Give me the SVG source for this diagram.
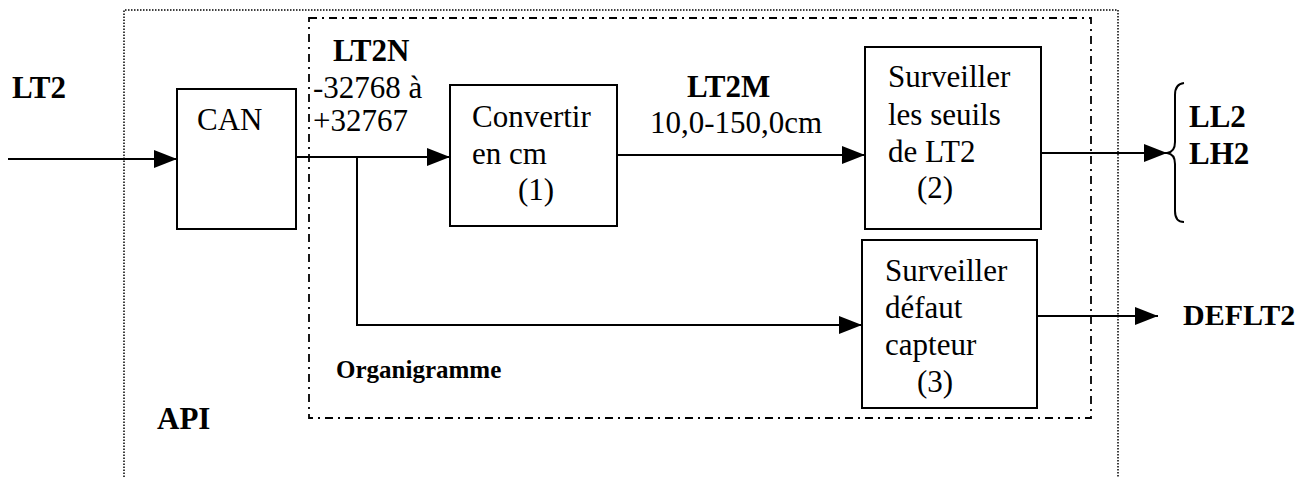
<svg xmlns="http://www.w3.org/2000/svg" width="1312" height="477" viewBox="0 0 1312 477">
<defs>
<style>
.box{fill:none;stroke:#000;stroke-width:2}
.t{font-family:"Liberation Serif","Times New Roman",serif;font-size:31px;fill:#000}
.b{font-family:"Liberation Serif","Times New Roman",serif;font-size:31px;font-weight:bold;fill:#000}
.c{fill:none;stroke:#000;stroke-width:2}
</style>
<marker id="ah" markerUnits="userSpaceOnUse" markerWidth="23" markerHeight="18" refX="23" refY="9" orient="auto">
<path d="M0,0 L23,9 L0,18 z" fill="#000"/>
</marker>
</defs>
<rect width="1312" height="477" fill="#fff"/>
<g id="api">
<path d="M124,477 V10 H1118 V477" fill="none" stroke="#000" stroke-width="1.5" stroke-dasharray="1.5 1.5"/>
<text class="b" x="157" y="429">API</text>
</g>
<g id="organigramme">
<rect x="309" y="18" width="782" height="400" fill="none" stroke="#000" stroke-width="1.8" stroke-dasharray="8 5 2 5"/>
<text class="b" x="336" y="378" style="font-size:25px">Organigramme</text>
</g>
<g id="in-LT2"><text class="b" x="12" y="98">LT2</text></g>
<g id="can">
<rect class="box" x="177" y="89" width="119" height="140"/>
<text class="t" x="197" y="130">CAN</text>
</g>
<g id="lbl-LT2N">
<text class="b" x="333" y="61">LT2N</text>
<text class="t" x="313" y="98">-32768 à</text>
<text class="t" x="313" y="131">+32767</text>
</g>
<g id="convertir">
<rect class="box" x="450" y="85" width="167" height="141"/>
<text class="t" x="472" y="127">Convertir</text>
<text class="t" x="472" y="164">en cm</text>
<text class="t" x="518" y="200">(1)</text>
</g>
<g id="lbl-LT2M">
<text class="b" x="687" y="97">LT2M</text>
<text class="t" x="650" y="133">10,0-150,0cm</text>
</g>
<g id="seuils">
<rect class="box" x="865" y="47" width="176" height="182"/>
<text class="t" x="888" y="87">Surveiller</text>
<text class="t" x="888" y="125">les seuils</text>
<text class="t" x="888" y="162">de LT2</text>
<text class="t" x="917" y="198">(2)</text>
</g>
<g id="defaut">
<rect class="box" x="862" y="240" width="175" height="168"/>
<text class="t" x="885" y="281">Surveiller</text>
<text class="t" x="885" y="318">défaut</text>
<text class="t" x="885" y="355">capteur</text>
<text class="t" x="917" y="392">(3)</text>
</g>
<g id="out-LL2-LH2">
<path d="M1184,83 Q1175,84 1175,95 V142 Q1175,152 1167,153 Q1175,154 1175,164 V211 Q1175,222 1184,222" fill="none" stroke="#000" stroke-width="2"/>
<text class="b" x="1189" y="127">LL2</text>
<text class="b" x="1189" y="164">LH2</text>
</g>
<g id="out-DEFLT2"><text class="b" x="1183" y="325" style="font-size:30px">DEFLT2</text></g>
<g id="connectors">
<path class="c" d="M8,159 H177" marker-end="url(#ah)"/>
<path class="c" d="M296,157 H450" marker-end="url(#ah)"/>
<path class="c" d="M617,155 H865" marker-end="url(#ah)"/>
<path class="c" d="M357,157 V325 H862" marker-end="url(#ah)"/>
<path class="c" d="M1041,153 H1167" marker-end="url(#ah)"/>
<path class="c" d="M1037,316 H1158" marker-end="url(#ah)"/>
</g>
</svg>
